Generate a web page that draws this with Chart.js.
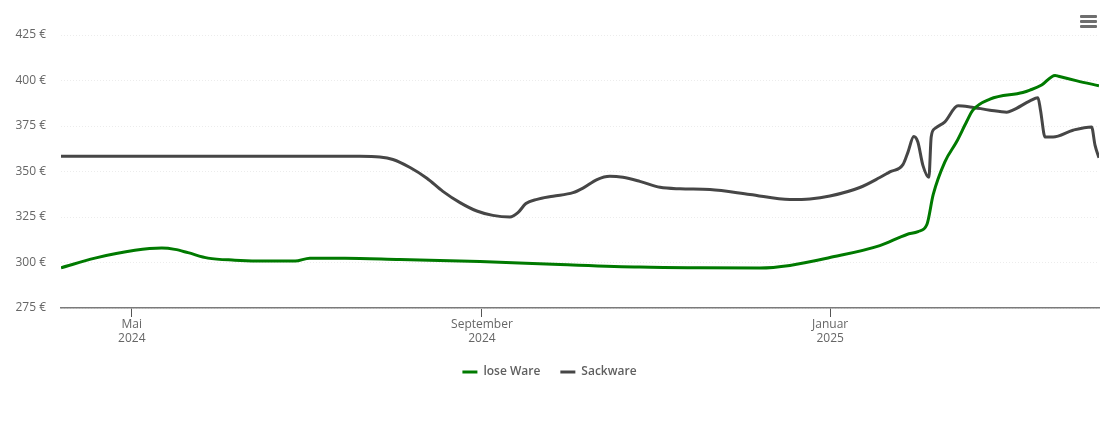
<!DOCTYPE html>
<html><head><meta charset="utf-8">
<style>
html,body{margin:0;padding:0;background:#fff;width:1110px;height:422px;overflow:hidden}
#wrap{position:relative;width:1110px;height:422px}
#menu{position:absolute;left:1080px;top:15px;width:17px}
#menu i{display:block;height:3px;background:#6e6e6e;border-radius:1px;margin-bottom:2px}
canvas{display:block}
</style>
<script src="https://cdn.jsdelivr.net/npm/chart.js@4/dist/chart.umd.min.js"></script>
</head><body>
<div id="wrap"><canvas id="c" width="1110" height="422"></canvas><div id="menu"><i></i><i></i><i></i></div></div>
<script>
// x values are days relative to 1 May 2024
const greenDays=[-24.5,-12.6,1.4,10.8,15.4,20,27,36.4,48,57.5,62.7,75,94.3,122.3,150.3,178.3,199.4,220.4,230.9,244.9,262.4,271.9,275.8,278.9,281.1,285.2,289.3,292.8,295,301,312.5,315,319.1,323.8,325,331.5,339.2];
const greenValues=[297.1,302.4,306.7,307.9,307.2,305.4,302.4,301.3,300.8,300.8,302.4,302.4,301.6,300.5,298.9,297.5,297.1,297,298.4,302.7,309.3,315.4,317,320.9,337.3,355.3,366.3,377.3,383.7,389.8,393.4,394.7,397.5,402.8,402.3,399.8,397.1];
const grayDays=[-24.5,80.2,87.2,91.8,97.8,103.7,109.3,115.3,121.2,126.8,132.8,135.6,138.4,142.3,147.9,154.9,158.4,163.3,167.8,172.4,178.3,185.4,192.4,202.9,216.9,230.9,237.9,244.9,255.4,262.4,265.9,270.5,272.3,274.3,275.7,277.5,279.6,280.4,281.7,285.2,289.8,294,301,306.9,309,315,317.8,318.7,320.3,323.1,330.1,336.6,337.8,339.2];
const grayValues=[358.4,358.4,358,356.6,352.2,346.3,339.1,332.9,328.3,325.9,325,327.4,332.4,334.7,336.4,338.4,340.9,345.6,347.4,346.8,344.6,341.3,340.5,340.1,337.4,334.6,334.9,336.5,341.2,346.7,349.8,353.8,360.8,369.2,366.3,353.4,346.8,369,373.6,377.3,386.1,385.5,383.7,382.6,383.7,388.8,390.5,383.7,369,369,372.7,374.5,364.5,357.5];
const seriesNames=["lose Ware","Sackware"];
const tickDays=[0.3,123,245];
const tickLabels=[["Mai","2024"],["September","2024"],["Januar","2025"]];
const pair=(xs,ys)=>xs.map((x,i)=>({x,y:ys[i]}));
const FONT='"Open Sans"';
new Chart(document.getElementById('c'),{
 type:'line',
 data:{datasets:[
  {label:seriesNames[0],data:pair(greenDays,greenValues),borderColor:'#007a00',backgroundColor:'#007a00',borderWidth:3,pointRadius:0,cubicInterpolationMode:'monotone'},
  {label:seriesNames[1],data:pair(grayDays,grayValues),borderColor:'#464646',backgroundColor:'#464646',borderWidth:3,pointRadius:0,cubicInterpolationMode:'monotone'}
 ]},
 options:{
  responsive:false,animation:false,devicePixelRatio:1,
  layout:{padding:{top:35,right:11,left:0,bottom:34}},
  plugins:{tooltip:{enabled:false},
   legend:{position:'bottom',labels:{usePointStyle:true,pointStyle:'line',pointStyleWidth:15,boxHeight:3,color:'#5f5f5f',padding:20,font:{family:FONT,size:12,weight:'600'},
     generateLabels(chart){return Chart.defaults.plugins.legend.labels.generateLabels(chart).map(l=>Object.assign(l,{lineWidth:3}));}}}},
  scales:{
   x:{type:'linear',min:-24.5,max:339.2,
    afterBuildTicks(s){s.ticks=tickDays.map(v=>({value:v}));},
    afterFit(s){s.height=38;},
    border:{color:'#7a7a7a',width:1.5},
    grid:{drawOnChartArea:false,drawTicks:true,tickLength:9,tickColor:'#555',tickWidth:1},
    ticks:{autoSkip:false,maxRotation:0,padding:0,color:'#666',font:{family:FONT,size:12},
     callback(v){const i=tickDays.indexOf(v);return i<0?'':tickLabels[i];}}},
   y:{type:'linear',min:275,max:425,
    afterFit(s){s.width=61;},
    border:{display:false,dash:[1,2]},
    grid:{drawTicks:false,color:'#ececec',lineWidth:1,tickLength:0},
    ticks:{stepSize:25,padding:15,color:'#666',font:{family:FONT,size:12},callback:v=>v+' €'}}
  }
 }
});
</script>
</body></html>
